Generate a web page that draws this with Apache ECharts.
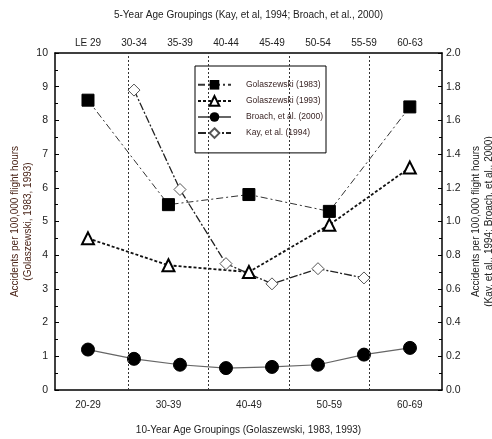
<!DOCTYPE html>
<html>
<head>
<meta charset="utf-8">
<script src="https://cdn.jsdelivr.net/npm/echarts@6/dist/echarts.min.js"></script>
<style>
html,body{margin:0;padding:0;background:#fff;}
#chart{width:492px;height:439px;}
</style>
</head>
<body>
<div id="chart"></div>
<script>
// ---- data ----
const tenYearLabels = ['20-29', '30-39', '40-49', '50-59', '60-69'];
const fiveYearLabels = ['LE 29', '30-34', '35-39', '40-44', '45-49', '50-54', '55-59', '60-63'];
const gol1983 = [8.6, 5.5, 5.8, 5.3, 8.4];
const gol1993 = [4.5, 3.7, 3.5, 4.9, 6.6];
const broach2000 = [0.24, 0.185, 0.15, 0.13, 0.137, 0.15, 0.21, 0.25];
const kay1994 = [null, 1.78, 1.19, 0.75, 0.63, 0.72, 0.665, null];
const tenYearBoundaries = [0.5, 1.5, 2.5, 3.5];

const FONT = "'Liberation Sans', Arial, sans-serif";
const toPairs = arr => arr.map((v, i) => [i, v]).filter(p => p[1] != null);

const chart = echarts.init(document.getElementById('chart'), null, {renderer: 'canvas'});
const option = {
  backgroundColor: '#fff',
  animation: false,
  textStyle: {fontFamily: FONT},
  grid: {left: 55, right: 50, top: 53, bottom: 49, containLabel: false, outerBoundsMode: 'none'},
  legend: {
    left: 195, top: 66,
    orient: 'vertical',
    backgroundColor: '#fff',
    borderColor: '#000', borderWidth: 1,
    padding: [14, 3, 14, 2],
    itemWidth: 33, itemHeight: 12, itemGap: 5.5,
    textStyle: {fontFamily: FONT, fontSize: 8.5, color: '#3a2424', padding: [0, 0, 0, 10]},
    data: ['Golaszewski (1983)', 'Golaszewski (1993)', 'Broach, et al. (2000)', 'Kay, et al. (1994)']
  },
  xAxis: [
    {
      type: 'value', position: 'bottom', min: -0.41, max: 4.4,
      name: '10-Year Age Groupings (Golaszewski, 1983, 1993)',
      nameLocation: 'middle', nameGap: 35, nameMoveOverlap: false,
      nameTextStyle: {fontFamily: FONT, fontSize: 10, color: '#222'},
      axisLine: {show: true, onZero: false, lineStyle: {color: '#000', width: 1.5}},
      axisTick: {show: false},
      splitLine: {show: false},
      axisLabel: {customValues: [0, 1, 2, 3, 4], formatter: v => tenYearLabels[Math.round(v)],
        fontFamily: FONT, fontSize: 10, color: '#222', margin: 10}
    },
    {
      type: 'value', position: 'top', min: -0.717, max: 7.696,
      name: '5-Year Age Groupings (Kay, et al, 1994; Broach, et al., 2000)',
      nameLocation: 'middle', nameGap: 33, nameMoveOverlap: false,
      nameTextStyle: {fontFamily: FONT, fontSize: 10, color: '#222'},
      axisLine: {show: true, onZero: false, lineStyle: {color: '#000', width: 1.5}},
      axisTick: {show: false},
      splitLine: {show: false},
      axisLabel: {customValues: [0, 1, 2, 3, 4, 5, 6, 7], formatter: v => fiveYearLabels[Math.round(v)],
        fontFamily: FONT, fontSize: 10, color: '#222', margin: 5}
    }
  ],
  yAxis: [
    {
      type: 'value', position: 'left', min: 0, max: 10, interval: 1,
      name: 'Accidents per 100,000 flight hours\n(Golaszewski, 1983, 1993)',
      nameLocation: 'middle', nameGap: 20, nameRotate: 90, nameMoveOverlap: false,
      nameTextStyle: {fontFamily: FONT, fontSize: 10, color: '#4a2418', lineHeight: 13},
      axisLine: {show: true, onZero: false, lineStyle: {color: '#000', width: 1.5}},
      axisTick: {show: true, inside: true, length: 4, lineStyle: {color: '#000'}},
      minorTick: {show: true, splitNumber: 2, length: 3, lineStyle: {color: '#000'}},
      splitLine: {show: false},
      axisLabel: {formatter: v => String(v), fontFamily: FONT, fontSize: 10.5, color: '#222', margin: 7}
    },
    {
      type: 'value', position: 'right', min: 0, max: 2, interval: 0.2,
      name: 'Accidents per 100,000 flight hours\n(Kay, et al., 1994; Broach, et al., 2000)',
      nameLocation: 'middle', nameGap: 28, nameRotate: 90, nameMoveOverlap: false,
      nameTextStyle: {fontFamily: FONT, fontSize: 10, color: '#222', lineHeight: 13},
      axisLine: {show: true, onZero: false, lineStyle: {color: '#000', width: 1.5}},
      axisTick: {show: true, inside: true, length: 4, lineStyle: {color: '#000'}},
      minorTick: {show: true, splitNumber: 2, length: 3, lineStyle: {color: '#000'}},
      splitLine: {show: false},
      axisLabel: {formatter: v => v.toFixed(1), fontFamily: FONT, fontSize: 10.5, color: '#222', margin: 4}
    }
  ],
  series: [
    {
      name: 'Golaszewski (1983)', type: 'line', xAxisIndex: 0, yAxisIndex: 0,
      data: toPairs(gol1983),
      symbol: 'rect', symbolSize: 12,
      itemStyle: {color: '#000', borderColor: '#000'},
      lineStyle: {color: '#333', width: 1, type: [7, 3, 2, 3]},
      markLine: {
        silent: true, symbol: 'none', label: {show: false},
        lineStyle: {color: '#333', width: 1, type: [2, 2]},
        data: tenYearBoundaries.map(x => ({xAxis: x}))
      },
      z: 4
    },
    {
      name: 'Golaszewski (1993)', type: 'line', xAxisIndex: 0, yAxisIndex: 0,
      data: toPairs(gol1993),
      symbol: 'triangle', symbolSize: 12,
      itemStyle: {color: '#fff', borderColor: '#000', borderWidth: 2},
      lineStyle: {color: '#111', width: 1.8, type: [3, 2]},
      z: 4
    },
    {
      name: 'Broach, et al. (2000)', type: 'line', xAxisIndex: 1, yAxisIndex: 1,
      data: toPairs(broach2000),
      symbol: 'circle', symbolSize: 13,
      itemStyle: {color: '#000', borderColor: '#000'},
      lineStyle: {color: '#666', width: 1.2, type: 'solid'},
      z: 4
    },
    {
      name: 'Kay, et al. (1994)', type: 'line', xAxisIndex: 1, yAxisIndex: 1,
      data: toPairs(kay1994),
      symbol: 'diamond', symbolSize: 12,
      itemStyle: {color: '#fff', borderColor: '#555', borderWidth: 1},
      lineStyle: {color: '#222', width: 1.3, type: [8, 2, 2, 2]},
      z: 4
    }
  ]
};
chart.setOption(option);
</script>
</body>
</html>
